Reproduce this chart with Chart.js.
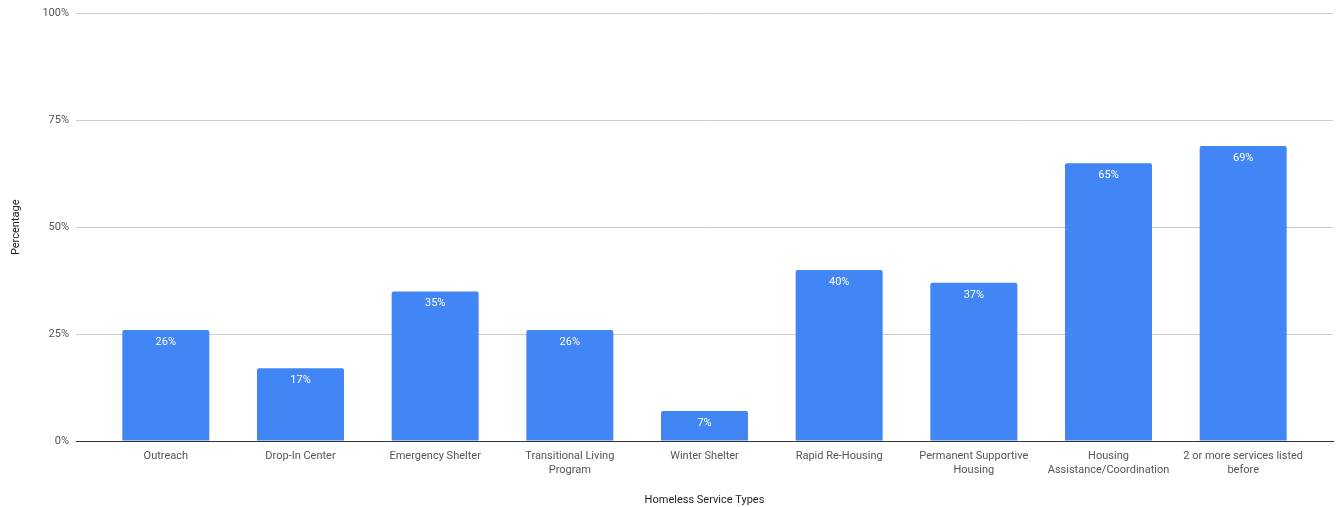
<!DOCTYPE html>
<html>
<head>
<meta charset="utf-8">
<script src="https://cdn.jsdelivr.net/npm/chart.js@4/dist/chart.umd.min.js"></script>
<style>
  body { margin: 0; background: #fff; }
  canvas { display: block; }
</style>
</head>
<body>
<canvas id="serviceChart" width="1341" height="507"></canvas>
<script>
var serviceTypes = [
  "Outreach",
  "Drop-In Center",
  "Emergency Shelter",
  ["Transitional Living", "Program"],
  "Winter Shelter",
  "Rapid Re-Housing",
  ["Permanent Supportive", "Housing"],
  ["Housing", "Assistance/Coordination"],
  ["2 or more services listed", "before"]
];
var percentages = [26, 17, 35, 26, 7, 40, 37, 65, 69];
var yTicks = [0, 25, 50, 75, 100];

// white value labels just inside the top of each bar
var barValueLabels = {
  id: 'barValueLabels',
  afterDatasetsDraw: function(chart){
    var ctx = chart.ctx;
    var meta = chart.getDatasetMeta(0);
    ctx.save();
    ctx.fillStyle = '#ffffff';
    ctx.font = '11px Roboto';
    ctx.textAlign = 'center';
    ctx.textBaseline = 'middle';
    meta.data.forEach(function(bar, i){
      ctx.fillText(percentages[i] + '%', bar.x, bar.y + 12);
    });
    ctx.restore();
  }
};

var ctx = document.getElementById('serviceChart');
var myBarChart = new Chart(ctx, {
  type: 'bar',
  data: {
    datasets: [{
      label: 'Percentage',
      data: percentages.map(function(v, i){ return { x: i, y: v }; }),
      backgroundColor: '#4285f4',
      borderRadius: 2,
      categoryPercentage: 1,
      barPercentage: 0.646
    }]
  },
  options: {
    responsive: false,
    animation: false,
    layout: { padding: { top: 13, right: 8, left: 10, bottom: 0 } },
    plugins: {
      legend: { display: false },
      tooltip: { enabled: false }
    },
    scales: {
      x: {
        type: 'linear',
        offset: false,
        // leave a little room past the first and last bar, like the gridlines do
        min: -0.667,
        max: serviceTypes.length - 1 + 0.667,
        afterBuildTicks: function(scale){
          scale.ticks = serviceTypes.map(function(s, i){ return { value: i }; });
        },
        grid: { display: false, drawTicks: false },
        border: { color: '#333333', width: 1 },
        ticks: {
          color: '#555555',
          font: { family: 'Roboto', size: 11 },
          padding: 9,
          maxRotation: 0,
          autoSkip: false,
          callback: function(v){ return serviceTypes[v]; }
        },
        title: {
          display: true,
          text: 'Homeless Service Types',
          color: '#222222',
          font: { family: 'Roboto', size: 11 },
          padding: { top: 16, bottom: 0 }
        },
        afterFit: function(scale){ scale.height = 66; }
      },
      y: {
        min: 0,
        max: 100,
        afterBuildTicks: function(scale){
          scale.ticks = yTicks.map(function(v){ return { value: v }; });
        },
        grid: { color: '#cccccc', drawTicks: false },
        border: { display: false },
        ticks: {
          color: '#555555',
          font: { family: 'Roboto', size: 11 },
          padding: 7,
          callback: function(v){ return v + '%'; }
        },
        title: {
          display: true,
          text: 'Percentage',
          color: '#222222',
          font: { family: 'Roboto', size: 11 },
          padding: { top: 0, bottom: 0 }
        },
        afterFit: function(scale){ scale.width = 66; }
      }
    }
  },
  plugins: [barValueLabels]
});
</script>
</body>
</html>
